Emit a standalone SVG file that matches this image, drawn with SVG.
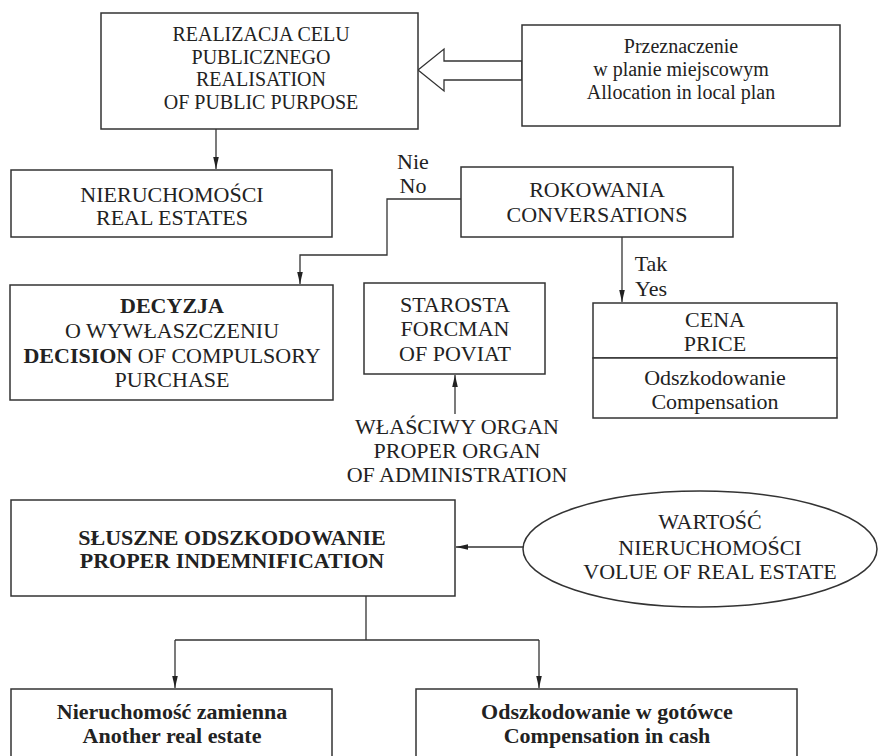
<svg xmlns="http://www.w3.org/2000/svg" width="881" height="756" viewBox="0 0 881 756">
<style>
.box{fill:#fff;stroke:#333;stroke-width:1.5}
text{font-family:'Liberation Serif','Times New Roman',Times,'DejaVu Serif',serif;font-size:22px;fill:#222;text-anchor:middle}
.s{font-size:20px}
.b{font-weight:bold}
.c{fill:none;stroke:#333;stroke-width:1.3}
</style>
<defs>
<marker id="ah" viewBox="0 0 12 8" refX="12" refY="4" markerWidth="12" markerHeight="8" markerUnits="userSpaceOnUse" orient="auto">
<path d="M0,1.2 L12,4 L0,6.8 Z" fill="#222"/>
</marker>
</defs>
<rect width="881" height="756" fill="#fff"/>

<g id="connectors">
<path class="c" d="M216,129 V169" marker-end="url(#ah)"/>
<path class="c" d="M461,199 H387 V255 H300 V284" marker-end="url(#ah)"/>
<path class="c" d="M622,237 V302" marker-end="url(#ah)"/>
<path class="c" d="M455,414 V375" marker-end="url(#ah)"/>
<path class="c" d="M523,547 H456" marker-end="url(#ah)"/>
<path class="c" d="M366,596 V640 M175,640 H539"/>
<path class="c" d="M175,640 V688" marker-end="url(#ah)"/>
<path class="c" d="M539,640 V688" marker-end="url(#ah)"/>
<polygon id="hollow-arrow" points="418,70 444,49 444,61 522,61 522,80 444,80 444,91" fill="#fff" stroke="#333" stroke-width="1.3"/>
</g>

<g id="realizacja">
<rect class="box" x="101" y="13" width="317" height="116"/>
<text class="s" x="261" y="41">REALIZACJA CELU</text>
<text class="s" x="261" y="63.5">PUBLICZNEGO</text>
<text class="s" x="261" y="86">REALISATION</text>
<text class="s" x="261" y="108.5">OF PUBLIC PURPOSE</text>
</g>

<g id="przeznaczenie">
<rect class="box" x="522" y="25" width="318" height="101"/>
<text class="s" x="681" y="53">Przeznaczenie</text>
<text class="s" x="681" y="76">w planie miejscowym</text>
<text class="s" x="681" y="99">Allocation in local plan</text>
</g>

<g id="nieruchomosci">
<rect class="box" x="11" y="170" width="321" height="67"/>
<text x="172" y="202">NIERUCHOMOŚCI</text>
<text x="172" y="225">REAL ESTATES</text>
</g>

<g id="nie-label">
<text x="413" y="169">Nie</text>
<text x="413" y="193">No</text>
</g>

<g id="rokowania">
<rect class="box" x="461" y="167" width="272" height="70"/>
<text x="597" y="197">ROKOWANIA</text>
<text x="597" y="222">CONVERSATIONS</text>
</g>

<g id="tak-label">
<text x="651" y="271">Tak</text>
<text x="651" y="296">Yes</text>
</g>

<g id="decyzja">
<rect class="box" x="10" y="285" width="323" height="115"/>
<text class="b" x="172" y="313">DECYZJA</text>
<text x="172" y="338">O WYWŁASZCZENIU</text>
<text x="172" y="363"><tspan class="b">DECISION</tspan> OF COMPULSORY</text>
<text x="172" y="387">PURCHASE</text>
</g>

<g id="starosta">
<rect class="box" x="364" y="283" width="181" height="91"/>
<text x="455" y="312">STAROSTA</text>
<text x="455" y="336">FORCMAN</text>
<text x="455" y="361">OF POVIAT</text>
</g>

<g id="wlasciwy">
<text x="457" y="434">WŁAŚCIWY ORGAN</text>
<text x="457" y="458">PROPER ORGAN</text>
<text x="457" y="482">OF ADMINISTRATION</text>
</g>

<g id="cena">
<rect class="box" x="593" y="303" width="244" height="55"/>
<text x="715" y="327">CENA</text>
<text x="715" y="351">PRICE</text>
<rect class="box" x="593" y="358" width="244" height="60"/>
<text x="715" y="385">Odszkodowanie</text>
<text x="715" y="409">Compensation</text>
</g>

<g id="sluszne">
<rect class="box" x="11" y="500" width="444" height="96"/>
<text class="b" x="232" y="545">SŁUSZNE ODSZKODOWANIE</text>
<text class="b" x="232" y="568">PROPER INDEMNIFICATION</text>
</g>

<g id="wartosc">
<ellipse class="box" cx="700" cy="549" rx="177" ry="58"/>
<text x="710" y="529">WARTOŚĆ</text>
<text x="710" y="555">NIERUCHOMOŚCI</text>
<text x="710" y="579">VOLUE OF REAL ESTATE</text>
</g>

<g id="zamienna">
<rect class="box" x="11" y="689" width="321" height="80"/>
<text class="b" x="172" y="719">Nieruchomość zamienna</text>
<text class="b" x="172" y="743">Another real estate</text>
</g>

<g id="gotowka">
<rect class="box" x="416" y="689" width="381" height="80"/>
<text class="b" x="607" y="719">Odszkodowanie w gotówce</text>
<text class="b" x="607" y="743">Compensation in cash</text>
</g>
</svg>
